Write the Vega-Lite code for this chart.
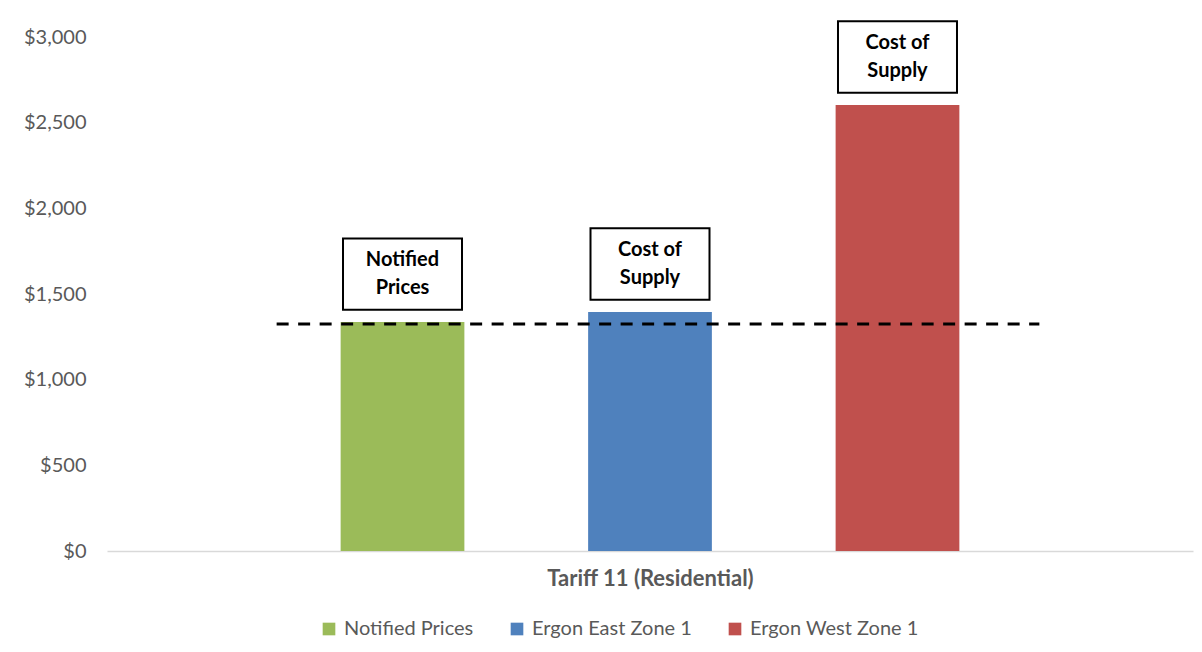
{
  "$schema": "https://vega.github.io/schema/vega-lite/v6.json",
  "width": 1086,
  "height": 514,
  "autosize": {"type": "none"},
  "padding": {"left": 107, "top": 37, "right": 9, "bottom": 101},
  "background": "white",
  "config": {"view": {"stroke": null}, "font": "Lato"},
  "datasets": {
    "bars": [
      {"series": "Notified Prices", "value": 1336, "label": "Notified\nPrices"},
      {"series": "Ergon East Zone 1", "value": 1395, "label": "Cost of\nSupply"},
      {"series": "Ergon West Zone 1", "value": 2603, "label": "Cost of\nSupply"}
    ],
    "ref": [{"start": "Notified Prices", "end": "Ergon West Zone 1", "level": 1325}]
  },
  "layer": [
    {
      "data": {"name": "bars"},
      "mark": {"type": "bar"},
      "encoding": {
        "x": {
          "field": "series", "type": "nominal",
          "scale": {"domain": ["Notified Prices", "Ergon East Zone 1", "Ergon West Zone 1"], "paddingInner": 0.5, "paddingOuter": 0.944},
          "axis": {"labels": false, "ticks": false, "domainColor": "#d9d9d9", "domainWidth": 1.5, "title": "Tariff 11 (Residential)", "titleFontSize": 22, "titleFontWeight": "bold", "titleColor": "#595959", "titlePadding": 17, "titleFont": "Lato"}
        },
        "y": {
          "field": "value", "type": "quantitative",
          "scale": {"domain": [0, 3000], "nice": false},
          "axis": {"values": [0, 500, 1000, 1500, 2000, 2500, 3000], "format": "$,.0f", "domain": false, "ticks": false, "grid": false, "labelPadding": 21, "labelFontSize": 20, "labelColor": "#595959", "labelFont": "Lato", "title": null}
        },
        "color": {
          "field": "series", "type": "nominal",
          "scale": {"domain": ["Notified Prices", "Ergon East Zone 1", "Ergon West Zone 1"], "range": ["#9BBB59", "#4F81BD", "#C0504D"]},
          "legend": {"orient": "none", "legendX": 212, "legendY": 582, "direction": "horizontal", "title": null, "symbolType": "square", "symbolSize": 160, "symbolStrokeWidth": 0, "labelFontSize": 20, "labelColor": "#595959", "labelFont": "Lato", "labelLimit": 400, "columnPadding": 33, "labelOffset": 5}
        }
      }
    },
    {
      "data": {"name": "ref"},
      "mark": {"type": "rule", "strokeDash": [12, 9.5], "strokeWidth": 3, "color": "black", "xOffset": -64, "x2Offset": 80},
      "encoding": {
        "x": {"field": "start", "type": "nominal", "bandPosition": 0},
        "x2": {"field": "end", "bandPosition": 1},
        "y": {"field": "level", "type": "quantitative"}
      }
    },
    {
      "data": {"name": "bars"},
      "mark": {"type": "point", "shape": "M-1,-0.6H1V0.6H-1Z", "size": 14161, "filled": true, "fill": "white", "stroke": "black", "strokeWidth": 2, "opacity": 1, "yOffset": -48},
      "encoding": {
        "x": {"field": "series", "type": "nominal"},
        "y": {"field": "value", "type": "quantitative"}
      }
    },
    {
      "data": {"name": "bars"},
      "mark": {"type": "text", "lineBreak": "\n", "font": "Lato", "fontWeight": "bold", "fontSize": 20, "lineHeight": 28, "yOffset": -62, "color": "black", "baseline": "middle", "align": "center"},
      "encoding": {
        "x": {"field": "series", "type": "nominal"},
        "y": {"field": "value", "type": "quantitative"},
        "text": {"field": "label"}
      }
    }
  ]
}
